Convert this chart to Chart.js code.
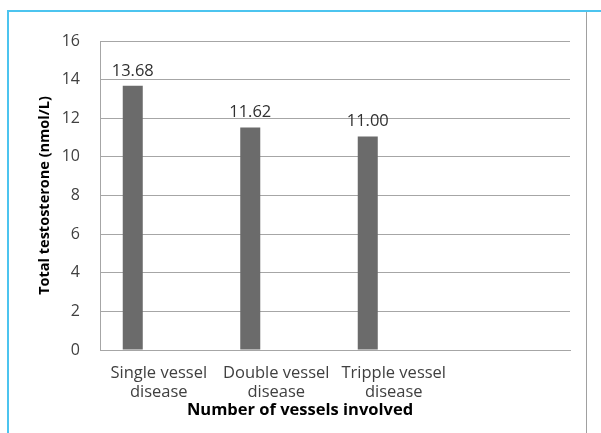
<!DOCTYPE html>
<html>
<head>
<meta charset="utf-8">
<script src="https://cdn.jsdelivr.net/npm/chart.js@4"></script>
<style>
html,body{margin:0;padding:0;background:#fff;}
#wrap{position:relative;width:601px;height:433px;}
</style>
</head>
<body>
<div id="wrap"><canvas id="c" width="601" height="433"></canvas></div>
<script>
const categories = [["Single vessel","disease"],["Double vessel","disease"],["Tripple vessel","disease"],""];
const barValues = [13.68, 11.52, 11.05, null];
const emptySeries = [null, null, null, null];
const valueLabels = ["13.68","11.62","11.00",""];
const yMin = 0, yMax = 16, yStep = 2;
const yTitle = "Total testosterone (nmol/L)";
const xTitle = "Number of vessels involved";

const FONT = "'Open Sans', 'DejaVu Sans', sans-serif";

const decor = {
  id: 'decor',
  beforeDraw(chart) {
    const ctx = chart.ctx;
    ctx.save();
    ctx.fillStyle = '#ffffff';
    ctx.fillRect(0, 0, chart.width, chart.height);
    ctx.strokeStyle = '#4cc4ef';
    ctx.lineWidth = 2;
    ctx.beginPath();
    ctx.moveTo(8, 433);
    ctx.lineTo(8, 11);
    ctx.lineTo(601, 11);
    ctx.stroke();
    ctx.strokeStyle = '#a0a0a0';
    ctx.lineWidth = 1;
    ctx.beginPath();
    ctx.moveTo(586.5, 12);
    ctx.lineTo(586.5, 433);
    ctx.stroke();
    ctx.restore();
  },
  afterDraw(chart) {
    const ctx = chart.ctx;
    const area = chart.chartArea;
    ctx.save();
    ctx.fillStyle = '#000';
    ctx.font = "bold 14.5px " + FONT;
    ctx.textAlign = 'center';
    ctx.textBaseline = 'middle';
    ctx.translate(45, (area.top + area.bottom) / 2);
    ctx.rotate(-Math.PI / 2);
    ctx.fillText(yTitle, 0, 0);
    ctx.restore();
    ctx.save();
    ctx.fillStyle = '#000';
    ctx.font = "bold 16.5px " + FONT;
    ctx.textAlign = 'center';
    ctx.textBaseline = 'middle';
    ctx.fillText(xTitle, 300, 410);
    ctx.restore();
  },
  afterDatasetsDraw(chart) {
    const ctx = chart.ctx;
    const meta = chart.getDatasetMeta(0);
    ctx.save();
    ctx.fillStyle = '#303030';
    ctx.font = "16.5px " + FONT;
    ctx.textAlign = 'center';
    ctx.textBaseline = 'middle';
    meta.data.forEach((el, i) => {
      if (barValues[i] == null) return;
      ctx.fillText(valueLabels[i], el.x, el.y - 15);
    });
    ctx.restore();
  }
};

new Chart(document.getElementById('c'), {
  type: 'bar',
  data: {
    labels: categories,
    datasets: [
      { data: barValues, backgroundColor: '#6b6b6b', borderWidth: 0,
        categoryPercentage: 0.885, barPercentage: 0.385 },
      { data: emptySeries, backgroundColor: '#6b6b6b', borderWidth: 0,
        categoryPercentage: 0.885, barPercentage: 0.385 }
    ]
  },
  options: {
    responsive: false,
    animation: false,
    devicePixelRatio: 1,
    layout: { padding: { left: 0, top: 41, right: 31, bottom: 0 } },
    plugins: { legend: { display: false }, tooltip: { enabled: false }, title: { display: false } },
    scales: {
      x: {
        grid: { display: false, drawTicks: false },
        border: { display: true, color: '#a6a6a6' },
        ticks: {
          color: '#404040', padding: 13, maxRotation: 0, minRotation: 0, autoSkip: false,
          font: { family: FONT, size: 16.5, lineHeight: 1.2 }
        },
        afterFit(scale) { scale.height = 83; }
      },
      y: {
        min: yMin, max: yMax,
        grid: { color: '#a6a6a6', drawTicks: false },
        border: { display: true, color: '#a6a6a6' },
        ticks: {
          stepSize: yStep, color: '#404040', padding: 20,
          font: { family: FONT, size: 16 }
        },
        afterFit(scale) { scale.width = 100; }
      }
    }
  },
  plugins: [decor]
});
</script>
</body>
</html>
